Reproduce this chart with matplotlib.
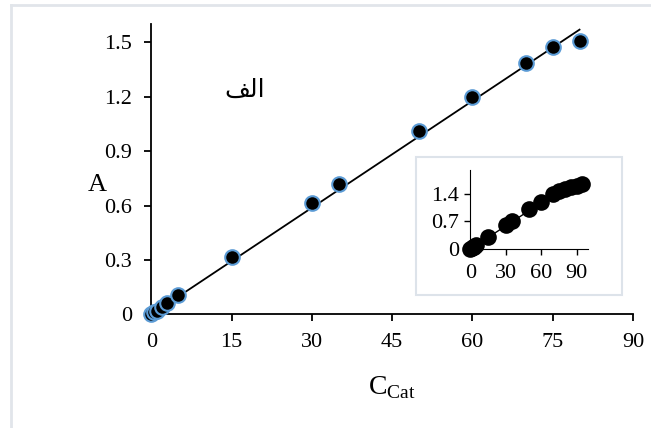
import matplotlib.pyplot as plt
from matplotlib.lines import Line2D
from matplotlib.patches import Rectangle

plt.rcParams['font.family'] = ['Liberation Serif', 'DejaVu Sans']
plt.rcParams['mathtext.fontset'] = 'custom'
plt.rcParams['mathtext.rm'] = 'Liberation Serif'

# main series: concentration vs absorbance
conc = [0, 0.5, 1, 2, 3, 5, 15, 30, 35, 50, 60, 70, 75, 80]
absorb = [0.005, 0.012, 0.022, 0.042, 0.065, 0.107, 0.316, 0.613, 0.717, 1.008, 1.200, 1.387, 1.475, 1.508]
# fitted line end points
fit_x = [0, 80]
fit_y = [0.0, 1.569]

# inset series: wider range
ins_conc = [0, 1, 2, 3, 5, 15, 30, 35, 50, 60, 70, 75, 80, 85, 90, 95]
ins_abs = [0.0, 0.02, 0.04, 0.06, 0.1, 0.31, 0.61, 0.71, 1.01, 1.20, 1.40, 1.47, 1.51, 1.56, 1.60, 1.64]

x_ticks = [0, 15, 30, 45, 60, 75, 90]
y_ticks = [0, 0.3, 0.6, 0.9, 1.2, 1.5]
y_labels = ['0', '0.3', '0.6', '0.9', '1.2', '1.5']
ins_x_ticks = [0, 30, 60, 90]
ins_y_ticks = [0, 0.7, 1.4]
ins_y_labels = ['0', '0.7', '1.4']

# "الف" written in shaped presentation forms (visual order) since matplotlib does not shape Arabic
panel_label = '\ufed2\ufedf\ufe8d'

fig = plt.figure(figsize=(6.51, 4.28), dpi=100)

# light frame on top and left edge
frame_col = '#e1e5ea'
fig.add_artist(Line2D([11/651, 1], [1-5/428, 1-5/428], color=frame_col, lw=2, transform=fig.transFigure))
fig.add_artist(Line2D([11/651, 11/651], [0, 1-5/428], color=frame_col, lw=2, transform=fig.transFigure))

ax = fig.add_axes([0.2326, 0.2652, 0.7398, 0.6787])
ax.plot(fit_x, fit_y, color='black', lw=1.3, zorder=2)
ax.plot(conc, absorb, 'o', color='black', markersize=10.5, markeredgecolor='#5b9bd5',
        markeredgewidth=1.5, zorder=3, clip_on=False)
ax.set_xlim(0, 90)
ax.set_ylim(0, 1.6)
ax.set_xticks(x_ticks)
ax.set_xticklabels([str(t) for t in x_ticks])
ax.set_yticks(y_ticks)
ax.set_yticklabels(y_labels)
for s in ['top', 'right']:
    ax.spines[s].set_visible(False)
for s in ['left', 'bottom']:
    ax.spines[s].set_linewidth(1.3)
ax.tick_params(direction='out', length=5, width=1.3, labelsize=16)
ax.tick_params(axis='y', pad=9)
ax.tick_params(axis='x', pad=8)
ax.set_xlabel('C$_{\\mathrm{Cat}}$', fontsize=20, labelpad=16)
ax.set_ylabel('A', fontsize=19, rotation=0, va='center')
ax.yaxis.set_label_coords(-0.113, 0.446)
ax.text(17.5, 1.236, panel_label, fontsize=18, ha='center', va='center',
        family=['DejaVu Sans'])

# inset box
fig.add_artist(Rectangle((416/651, 1-295/428), (622-416)/651, (295-157)/428,
                         facecolor='white', edgecolor='#dde3ea', lw=1.5,
                         transform=fig.transFigure, zorder=5))

ins = fig.add_axes([0.7227, 0.4182, 0.181, 0.1846], zorder=6)
ins.patch.set_alpha(0)
ins.plot([0, 65], [0, 1.27], color='black', lw=1, zorder=2)
ins.plot(ins_conc, ins_abs, 'o', color='black', markersize=12, markeredgewidth=0,
         zorder=3, clip_on=False)
ins.set_xlim(0, 100)
ins.set_ylim(0, 2.0)
ins.set_xticks(ins_x_ticks)
ins.set_xticklabels([str(t) for t in ins_x_ticks])
ins.set_yticks(ins_y_ticks)
ins.set_yticklabels(ins_y_labels)
for s in ['top', 'right']:
    ins.spines[s].set_visible(False)
ins.tick_params(direction='out', length=4, width=1, labelsize=16)
ins.tick_params(axis='y', pad=4)
ins.tick_params(axis='x', pad=7)

fig.savefig('out.png', dpi=100)
